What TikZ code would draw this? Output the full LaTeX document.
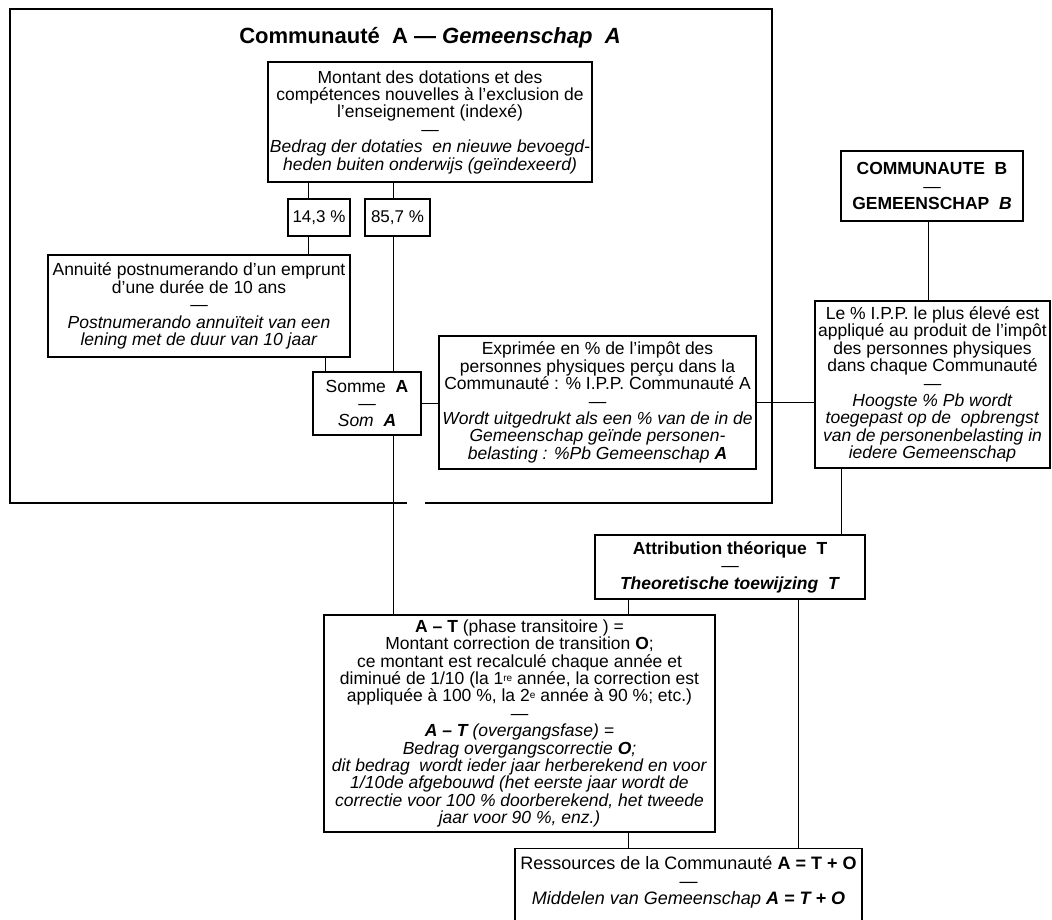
\documentclass[tikz,border=0pt]{standalone}
\usepackage{fontspec}
\setmainfont{Liberation Sans}
\newcommand\bodyfont{\fontsize{17.5}{17.4}\selectfont\lineskiplimit=-100pt\lineskip=0pt\relax}
\newcommand\pctfont{\fontsize{17}{18}\selectfont}
\newcommand\titlefont{\fontsize{22}{24}\selectfont\bfseries}
\newcommand\resfont{\fontsize{18}{17.5}\selectfont\lineskiplimit=-100pt\lineskip=0pt\relax}
\newcommand\supx[1]{\raisebox{0.32ex}{\fontsize{10}{10}\selectfont #1}}
\begin{document}
\begin{tikzpicture}[x=1pt,y=-1pt,
  box/.style={draw,line width=1.1pt,inner sep=0pt,align=center,font=\bodyfont},
  thickbox/.style={box,line width=1.8pt},
  conn/.style={line width=0.8pt},
  framel/.style={line width=2pt}]
\useasboundingbox (0,0) rectangle (1052,919);
\clip (0,0) rectangle (1052,919);

% frame of Communaute A
\draw[framel] (407,503) -- (10,503) -- (10,9) -- (772,9) -- (772,503) -- (425,503);
\node[font=\titlefont] (title) at (430,38) {Communauté\ \ A — \textit{Gemeenschap\ \ A}};

\node[box,minimum width=324pt,minimum height=120pt] (top) at (430,122)
  {Montant des dotations et des\\compétences nouvelles à l'exclusion de\\l'enseignement (indexé)\\—\\\textit{Bedrag der dotaties\ \ en nieuwe bevoegd-}\\\textit{heden buiten onderwijs (geïndexeerd)}};

\node[box,font=\pctfont,minimum width=62pt,minimum height=37pt] (p14) at (319,217.5) {14,3 \%};
\node[box,font=\pctfont,minimum width=65pt,minimum height=37pt] (p85) at (397.5,217.5) {85,7 \%};

\node[box,minimum width=302pt,minimum height=102pt] (ann) at (199,306)
  {Annuité postnumerando d'un emprunt\\d'une durée de 10 ans\\—\\\textit{Postnumerando annuïteit van een}\\\textit{lening met de duur van 10 jaar}};

\node[box,minimum width=108pt,minimum height=63pt] (som) at (367,403.5)
  {Somme\ \ \textbf{A}\\—\\\textit{Som\ \ \textbf{A}}};

\node[box,minimum width=317pt,minimum height=133pt] (exp) at (597.5,402.5)
  {Exprimée en \% de l'impôt des\\personnes physiques perçu dans la\\Communauté : \% I.P.P. Communauté A\\—\\\textit{Wordt uitgedrukt als een \% van de in de}\\\textit{Gemeenschap geïnde personen-}\\\textit{belasting : \%Pb Gemeenschap \textbf{A}}};

\node[thickbox,minimum width=182pt,minimum height=70pt] (bbx) at (932,186)
  {\textbf{COMMUNAUTE\ \ B}\\—\\\textbf{GEMEENSCHAP\ \ \textit{B}}};

\node[box,minimum width=235pt,minimum height=167pt] (lep) at (932.5,384.5)
  {Le \% I.P.P. le plus élevé est\\appliqué au produit de l'impôt\\des personnes physiques\\dans chaque Communauté\\—\\\textit{Hoogste \% Pb wordt}\\\textit{toegepast op de\ \ opbrengst}\\\textit{van de personenbelasting in}\\\textit{iedere Gemeenschap}};

\node[box,minimum width=270pt,minimum height=64pt] (att) at (730,567)
  {\textbf{Attribution théorique\ \ T}\\—\\\textbf{\textit{Theoretische toewijzing\ \ T}}};

\node[box,minimum width=391pt,minimum height=217pt] (atb) at (519.5,723.5)
  {\textbf{A – T} (phase transitoire ) =\\Montant correction de transition \textbf{O};\\ce montant est recalculé chaque année et\\diminué de 1/10 (la 1\supx{re} année, la correction est\\appliquée à 100 \%, la 2\supx{e} année à 90 \%; etc.)\\—\\\textit{\textbf{A – T} (overgangsfase) =}\\\textit{Bedrag overgangscorrectie \textbf{O};}\\\textit{dit bedrag\ \ wordt ieder jaar herberekend en voor}\\\textit{1/10de afgebouwd (het eerste jaar wordt de}\\\textit{correctie voor 100 \% doorberekend, het tweede}\\\textit{jaar voor 90 \%, enz.)}};

\node[box,font=\resfont,anchor=north,minimum width=347pt,inner ysep=8pt,text depth=60pt] (res) at (688.5,848)
  {Ressources de la Communauté \textbf{A = T + O}\\—\\\textit{Middelen van Gemeenschap \textbf{A = T + O}}};

% connector positions
\coordinate (xa) at (308,0);
\coordinate (xb) at (393,0);
\coordinate (xc) at (325,0);
\coordinate (xd) at (928,0);
\coordinate (xe) at (841,0);
\coordinate (xf) at (628,0);
\coordinate (xg) at (798,0);

\draw[conn] (top.south -| xa) -- (p14.north -| xa);
\draw[conn] (top.south -| xb) -- (p85.north -| xb);
\draw[conn] (p14.south -| xa) -- (ann.north -| xa);
\draw[conn] (p85.south -| xb) -- (som.north -| xb);
\draw[conn] (ann.south -| xc) -- (som.north -| xc);
\draw[conn] (som.east) -- (exp.west |- som.east);
\draw[conn] (exp.east) -- (lep.west |- exp.east);
\draw[conn] (bbx.south -| xd) -- (lep.north -| xd);
\draw[conn] (som.south -| xb) -- (atb.north -| xb);
\draw[conn] (lep.south -| xe) -- (att.north -| xe);
\draw[conn] (att.south -| xf) -- (atb.north -| xf);
\draw[conn] (att.south -| xg) -- (res.north -| xg);
\draw[conn] (atb.south -| xf) -- (res.north -| xf);
\end{tikzpicture}
\end{document}
